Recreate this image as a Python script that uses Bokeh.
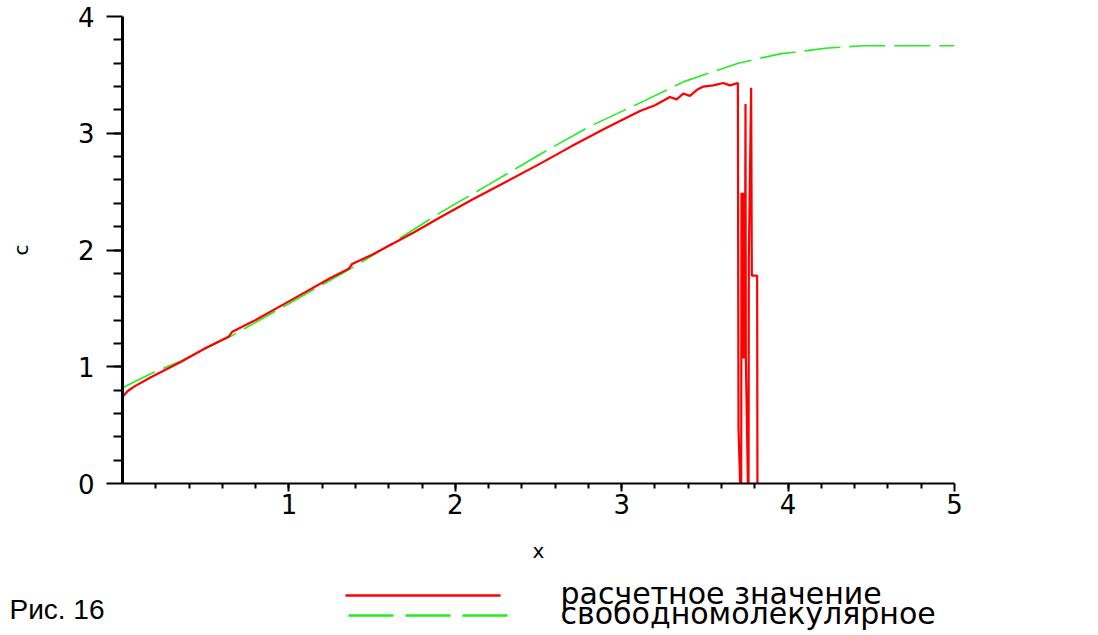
from bokeh.plotting import figure
from bokeh.layouts import column
from bokeh.models import Range1d, FixedTicker
from bokeh.core.properties import value
from bokeh.embed import file_html
from bokeh.resources import INLINE

# ---- data ----
red_x = [0.00, 0.03, 0.07, 0.17, 0.35, 0.50, 0.64, 0.66, 0.80, 1.00, 1.25, 1.36, 1.38,
         1.50, 1.75, 1.91, 2.10, 2.30, 2.51, 2.70, 2.90, 3.11, 3.20, 3.29, 3.33, 3.37,
         3.41, 3.45, 3.49, 3.55, 3.61, 3.65, 3.698,
         3.702, 3.718, 3.720, 3.724, 3.728, 3.732, 3.736, 3.740, 3.744, 3.746,
         3.762, 3.764, 3.778, 3.782, 3.814, 3.816]
red_y = [0.74, 0.79, 0.83, 0.91, 1.04, 1.16, 1.26, 1.30, 1.40, 1.56, 1.76, 1.84, 1.88,
         1.96, 2.15, 2.28, 2.43, 2.58, 2.74, 2.89, 3.04, 3.19, 3.24, 3.31, 3.29, 3.34,
         3.32, 3.37, 3.40, 3.41, 3.43, 3.41, 3.43,
         0.47, -0.30, 2.49, 1.07, 2.49, 1.07, 2.49, 1.07, 3.25, 1.07,
         -0.30, 1.94, 3.39, 1.78, 1.78, -0.30]

green_x = [0.00, 0.17, 0.35, 0.65, 1.00, 1.37, 1.50, 1.91, 2.20, 2.51, 2.81, 3.11,
           3.37, 3.70, 3.95, 4.24, 4.45, 5.00]
green_y = [0.82, 0.94, 1.05, 1.26, 1.54, 1.84, 1.95, 2.32, 2.56, 2.82, 3.06, 3.26,
           3.44, 3.60, 3.68, 3.73, 3.75, 3.75]

x_ticks = [1, 2, 3, 4, 5]
y_ticks = [0, 1, 2, 3, 4]
legend_labels = ["расчетное значение", "свободномолекулярное"]
caption = "Рис. 16"

RED = "#ff0000"
GREEN = "#22ee22"

W = 1090
MAIN_H = 573
LEG_H = 59
FRAME_L, FRAME_R = 122, 954

p = figure(width=W, height=MAIN_H, output_backend="svg", toolbar_location=None,
           x_range=Range1d(0, 5), y_range=Range1d(0, 4),
           min_border_left=FRAME_L, min_border_right=W - FRAME_R, min_border_top=16,
           min_border_bottom=MAIN_H - 483)
p.outline_line_color = None
p.xgrid.visible = False
p.ygrid.visible = False
p.background_fill_color = "white"
p.border_fill_color = "white"

p.line(green_x, green_y, line_color=GREEN, line_width=1.6, line_dash="36 9")
p.line(red_x, red_y, line_color=RED, line_width=2.2)

# axes styling
xa = p.xaxis[0]
ya = p.yaxis[0]
xa.ticker = FixedTicker(ticks=x_ticks, minor_ticks=[i * 0.2 for i in range(1, 25)])
ya.ticker = FixedTicker(ticks=y_ticks, minor_ticks=[i * 0.2 for i in range(1, 20)])
for ax in (xa, ya):
    ax.axis_line_color = "black"
    ax.major_tick_line_color = "black"
    ax.minor_tick_line_color = "black"
    ax.major_tick_line_width = 2
    ax.minor_tick_line_width = 2
    ax.major_tick_in = 0
    ax.minor_tick_in = 0
    ax.major_label_text_font = "DejaVu Sans"
    ax.major_label_text_font_size = "26px"
    ax.major_label_text_color = "black"
    ax.axis_label_text_font = "DejaVu Sans"
    ax.axis_label_text_font_style = "normal"
    ax.axis_label_text_font_size = "20px"
    ax.axis_label_text_color = "black"

xa.axis_line_width = 2
xa.major_tick_out = 8
xa.minor_tick_out = 5
xa.major_label_standoff = 2
xa.axis_label = "x"
xa.axis_label_standoff = 22

ya.axis_line_width = 3
ya.major_tick_out = 16
ya.minor_tick_out = 9
ya.major_label_standoff = 12
ya.axis_label = "c"
ya.axis_label_standoff = 42

# ---- legend / caption strip (its frame is aligned with the main frame) ----
q = figure(width=W, height=LEG_H, output_backend="svg", toolbar_location=None,
           x_range=Range1d(FRAME_L, FRAME_R), y_range=Range1d(0, LEG_H),
           x_axis_location=None,
           min_border=0, min_border_left=FRAME_L, min_border_right=W - FRAME_R,
           min_border_top=0, min_border_bottom=0)
q.grid.visible = False
q.outline_line_color = None
q.background_fill_color = "white"
q.border_fill_color = "white"

# caption as the strip's only (left) tick label
qa = q.yaxis[0]
qa.ticker = FixedTicker(ticks=[8])
qa.major_label_overrides = {8: caption}
qa.axis_line_color = None
qa.major_tick_line_color = None
qa.minor_tick_line_color = None
qa.major_label_standoff = 12
qa.major_label_text_font = "Liberation Sans"
qa.major_label_text_font_size = "28px"
qa.major_label_text_color = "black"

q.line([345, 500], [37, 37], line_color=RED, line_width=2.5)
q.line([348, 510], [17, 17], line_color=GREEN, line_width=2.5, line_dash="45 12")
q.text(x=[560, 560], y=[39, 19], text=legend_labels,
       text_font=value("DejaVu Sans"), text_font_size="30px",
       text_baseline="middle", text_align="left", text_color="black")

layout = column(p, q, spacing=0)
open("out.html", "w").write(file_html(layout, INLINE))
